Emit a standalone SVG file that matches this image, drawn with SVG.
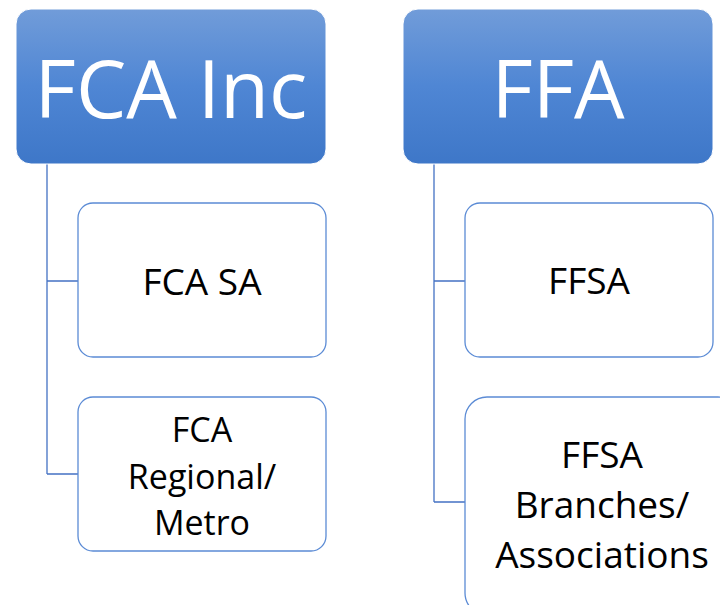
<svg xmlns="http://www.w3.org/2000/svg" width="720" height="605" viewBox="0 0 720 605">
<defs>
<linearGradient id="g" x1="0" y1="0" x2="0" y2="1">
<stop offset="0" stop-color="#719cd9"/>
<stop offset="0.5" stop-color="#4f86d4"/>
<stop offset="1" stop-color="#3e77c8"/>
</linearGradient>
<style>
.top{fill:url(#g);stroke:#ffffff;stroke-width:1}
.child{fill:#ffffff;stroke:#5b8bd5;stroke-width:1.3}
.conn{fill:none;stroke:#4472c4;stroke-width:1.3}
.tt{font-family:"Open Sans","Noto Sans",sans-serif;fill:#ffffff;text-anchor:middle}
.ct{font-family:"Open Sans","Noto Sans",sans-serif;fill:#000000;text-anchor:middle;font-size:37px}
.cs{font-size:34px}
</style>
</defs>
<rect width="720" height="605" fill="#ffffff"/>
<g id="connectors">
<path class="conn" d="M47,164 V474 M47,281 H78 M47,474 H78"/>
<path class="conn" d="M434,164 V502 M434,281 H465 M434,502 H465"/>
</g>
<g id="fca-inc">
<rect class="top" x="16" y="9" width="310" height="155" rx="15"/>
<text class="tt" x="171" y="118" font-size="80">FCA Inc</text>
</g>
<g id="ffa">
<rect class="top" x="403" y="9" width="310" height="155" rx="15"/>
<text class="tt" x="558" y="118" font-size="80">FFA</text>
</g>
<g id="fca-sa">
<rect class="child" x="78" y="203" width="248" height="154" rx="15"/>
<text class="ct" x="202" y="295">FCA SA</text>
</g>
<g id="fca-regional">
<rect class="child" x="78" y="397" width="248" height="154" rx="15"/>
<text class="ct cs" x="202" y="442">FCA</text>
<text class="ct cs" x="202" y="488.5">Regional/</text>
<text class="ct cs" x="202" y="535">Metro</text>
</g>
<g id="ffsa">
<rect class="child" x="465" y="203" width="248" height="154" rx="15"/>
<text class="ct" x="589" y="294">FFSA</text>
</g>
<g id="ffsa-branches">
<rect class="child" x="465" y="397" width="275" height="218" rx="22"/>
<text class="ct" x="602" y="468">FFSA</text>
<text class="ct" x="602" y="518">Branches/</text>
<text class="ct" x="602" y="568">Associations</text>
</g>
</svg>
